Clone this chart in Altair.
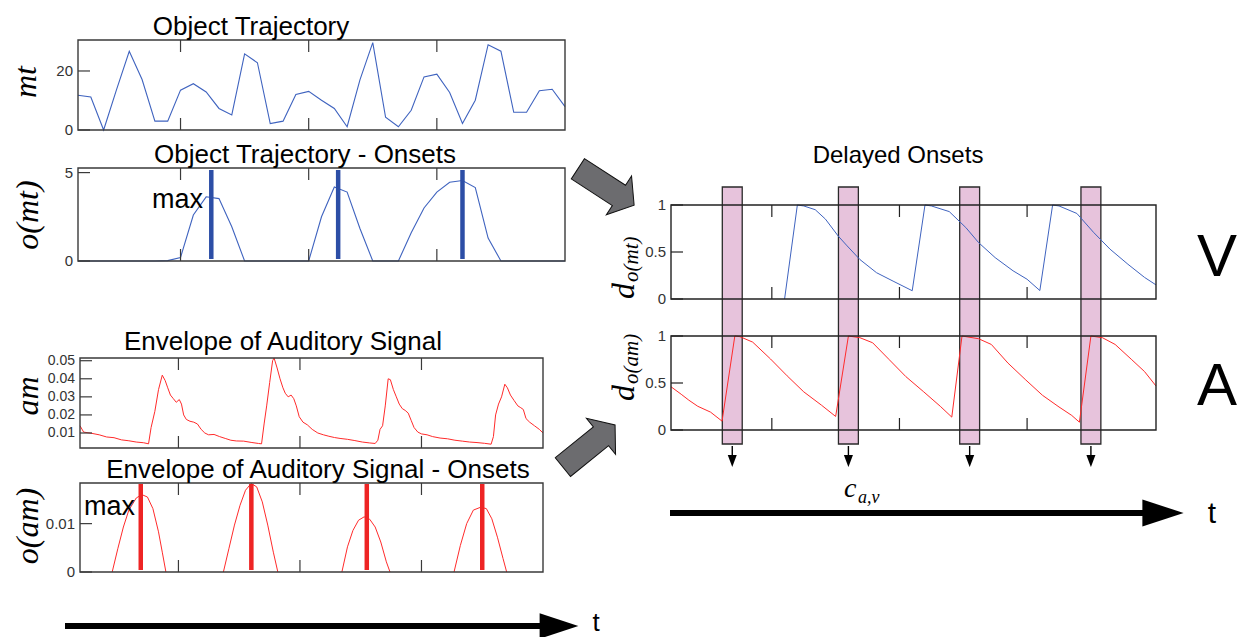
import altair as alt
import pandas as pd

W, H = 1237, 637
SANS = "Liberation Sans"
NARROW = "Liberation Sans Narrow, Liberation Sans"
SERIF = "Liberation Serif"

# ---------------- data ----------------
time_ticks = [1, 2, 3]

# Object trajectory (sampled every 0.1 s)
mt_time = [0.2, 0.3, 0.4, 0.5, 0.6, 0.7, 0.8, 0.9, 1.0, 1.1, 1.2, 1.3, 1.4,
           1.5, 1.6, 1.7, 1.8, 1.9, 2.0, 2.1, 2.2, 2.3, 2.4, 2.5, 2.6, 2.7,
           2.8, 2.9, 3.0, 3.1, 3.2, 3.3, 3.4, 3.5, 3.6, 3.7, 3.8, 3.9, 4.0]
mt_value = [11.8, 11.2, 0.0, 13.6, 26.7, 17.1, 3.0, 3.0, 13.5, 15.7, 12.9,
            7.3, 5.1, 25.8, 22.8, 2.2, 3.0, 12.0, 13.1, 10.1, 7.3, 1.1, 17.0,
            29.6, 4.3, 1.1, 6.7, 18.0, 18.9, 12.7, 2.2, 10.1, 28.9, 26.7, 6.0,
            6.0, 13.3, 13.8, 7.9]
omt_value = [0, 0, 0, 0, 0, 0, 0, 0.02, 0.2, 2.6, 3.63, 3.53, 1.94, 0,
             0, 0, 0, 0, 0, 2.5, 4.19, 3.9, 1.84, 0, 0, 0, 1.6, 3.0, 3.9,
             4.45, 4.55, 4.15, 1.3, 0, 0, 0, 0, 0, 0]
mt_onsets = [1.24, 2.23, 3.20]
mt_ticks, mt_labels = [0, 20], ["0", "20"]
omt_ticks, omt_labels = [0, 5], ["0", "5"]

# Envelope of auditory signal
am_time = [0.190, 0.220, 0.288, 0.348, 0.409, 0.470, 0.531, 0.592, 0.653, 0.714,
           0.754, 0.775, 0.806, 0.836, 0.867, 0.891, 0.912, 0.934, 0.958, 0.982,
           1.007, 1.025, 1.043, 1.065, 1.095, 1.126, 1.156, 1.187, 1.217, 1.248,
           1.293, 1.339, 1.385, 1.431, 1.476, 1.537, 1.598, 1.659, 1.684, 1.705,
           1.726, 1.751, 1.775, 1.787, 1.812, 1.836, 1.860, 1.879, 1.903, 1.927,
           1.949, 1.970, 1.994, 2.025, 2.061, 2.101, 2.147, 2.193, 2.238, 2.284,
           2.330, 2.391, 2.452, 2.513, 2.574, 2.619, 2.641, 2.659, 2.680, 2.702,
           2.726, 2.744, 2.769, 2.793, 2.817, 2.842, 2.866, 2.891, 2.915, 2.939,
           2.970, 3.000, 3.046, 3.092, 3.153, 3.214, 3.275, 3.336, 3.396, 3.457,
           3.518, 3.573, 3.592, 3.610, 3.634, 3.659, 3.686, 3.707, 3.732, 3.762,
           3.793, 3.817, 3.838, 3.860, 3.890, 3.930, 3.970, 4.000]
am_value = [0.0140, 0.0105, 0.0098, 0.0090, 0.0078, 0.0074, 0.0062, 0.0057, 0.0050, 0.0046,
            0.0040, 0.0130, 0.0220, 0.0340, 0.0420, 0.0390, 0.0350, 0.0310, 0.0290, 0.0270,
            0.0285, 0.0260, 0.0200, 0.0175, 0.0165, 0.0160, 0.0150, 0.0120, 0.0100, 0.0090,
            0.0092, 0.0080, 0.0070, 0.0060, 0.0056, 0.0055, 0.0048, 0.0042, 0.0040, 0.0150,
            0.0250, 0.0380, 0.0500, 0.0515, 0.0460, 0.0400, 0.0350, 0.0320, 0.0300, 0.0310,
            0.0290, 0.0250, 0.0190, 0.0160, 0.0145, 0.0120, 0.0100, 0.0090, 0.0082, 0.0075,
            0.0070, 0.0065, 0.0058, 0.0050, 0.0045, 0.0042, 0.0060, 0.0120, 0.0140, 0.0250,
            0.0400, 0.0395, 0.0340, 0.0300, 0.0260, 0.0235, 0.0225, 0.0210, 0.0170, 0.0130,
            0.0105, 0.0095, 0.0090, 0.0080, 0.0072, 0.0068, 0.0060, 0.0055, 0.0050, 0.0047,
            0.0043, 0.0038, 0.0080, 0.0200, 0.0260, 0.0300, 0.0370, 0.0350, 0.0310, 0.0280,
            0.0250, 0.0240, 0.0230, 0.0180, 0.0160, 0.0140, 0.0120, 0.0100]
am_ticks = [0.01, 0.02, 0.03, 0.04, 0.05]
am_labels = ["0.01", "0.02", "0.03", "0.04", "0.05"]

# Onsets of the auditory envelope
oam_time = [0.455, 0.501, 0.547, 0.592, 0.653, 0.699, 0.745, 0.790, 0.836, 0.867, 0.897,
            1.370, 1.415, 1.461, 1.507, 1.552, 1.598, 1.644, 1.690, 1.735, 1.781, 1.818,
            2.345, 2.391, 2.436, 2.482, 2.528, 2.574, 2.619, 2.665, 2.711, 2.741,
            3.268, 3.320, 3.372, 3.427, 3.488, 3.534, 3.579, 3.625, 3.671, 3.701]
oam_value = [0, 0.0048, 0.0093, 0.0128, 0.0153, 0.0160, 0.0155, 0.0131, 0.0083, 0.0041, 0,
             0, 0.0048, 0.0097, 0.0138, 0.0169, 0.0183, 0.0176, 0.0145, 0.0097, 0.0041, 0,
             0, 0.0052, 0.0086, 0.0107, 0.0114, 0.0109, 0.0093, 0.0062, 0.0021, 0,
             0, 0.0055, 0.0100, 0.0128, 0.0134, 0.0131, 0.0110, 0.0072, 0.0028, 0]
oam_seg = [1, 1, 1, 1, 1, 1, 1, 1, 1, 1, 1,
           2, 2, 2, 2, 2, 2, 2, 2, 2, 2, 2,
           3, 3, 3, 3, 3, 3, 3, 3, 3, 3,
           4, 4, 4, 4, 4, 4, 4, 4, 4, 4]
am_onsets = [0.69, 1.60, 2.55, 3.50]
oam_ticks, oam_labels = [0, 0.01], ["0", "0.01"]

# Delayed onsets
dmt_time = [1.10, 1.20, 1.25, 1.34, 1.42, 1.52, 1.59, 1.69, 1.82, 1.95, 2.10,
            2.20, 2.25, 2.39, 2.52, 2.62, 2.75, 2.89, 3.00, 3.10,
            3.20, 3.25, 3.39, 3.52, 3.65, 3.79, 3.92, 4.01]
dmt_value = [0, 1.0, 0.99, 0.95, 0.85, 0.67, 0.565, 0.42, 0.28, 0.19, 0.088,
             1.0, 0.99, 0.93, 0.76, 0.60, 0.44, 0.30, 0.21, 0.09,
             1.0, 0.99, 0.91, 0.71, 0.53, 0.37, 0.23, 0.15]
dam_time = [0.21, 0.29, 0.35, 0.42, 0.52, 0.61,
            0.71, 0.75, 0.85, 0.99, 1.12, 1.25, 1.39, 1.50,
            1.60, 1.69, 1.79, 1.92, 2.05, 2.19, 2.32, 2.41,
            2.49, 2.62, 2.72, 2.85, 2.99, 3.12, 3.25, 3.35, 3.41,
            3.50, 3.59, 3.69, 3.82, 3.92, 4.01]
dam_value = [0.46, 0.38, 0.317, 0.252, 0.19, 0.094,
             1.0, 0.993, 0.935, 0.755, 0.576, 0.406, 0.263, 0.144,
             1.0, 0.982, 0.928, 0.748, 0.568, 0.406, 0.252, 0.137,
             1.0, 0.971, 0.91, 0.712, 0.532, 0.37, 0.245, 0.155, 0.083,
             1.0, 0.982, 0.91, 0.748, 0.622, 0.468]
d_ticks, d_labels = [0, 0.5, 1], ["0", "0.5", "1"]

# ---------------- layout (pixel boxes: x0, x1, y0, y1) ----------------
G1 = (78, 565, 40, 130)
G2 = (78, 565, 168, 261)
G3 = (80, 543, 358, 448)
G4 = (80, 543, 483, 572)
GV = (671, 1156, 205, 299)
GA = (671, 1156, 336, 430)

BLUE = "#3f63bf"
BLUE_BAR = "#2c4ea6"
RED = "#ff2b2b"
RED_BAR = "#ee2424"
FRAME = "#3a3a3a"
TICK_LBL = "#333333"

one = pd.DataFrame({"k": [0]})

ARROW = "M -1 -0.36 L 0.46 -0.36 L 0.46 -0.69 L 1 0 L 0.46 0.69 L 0.46 0.36 L -1 0.36 Z"
TRI_R = "M -1 -0.66 L 1 0 L -1 0.66 Z"
TRI_D = "M -0.75 -1 L 0.75 -1 L 0 1 Z"


def scales(g, xdom, ydom):
    xs = alt.Scale(domain=xdom, range=[g[0], g[1]], nice=False, zero=False)
    ys = alt.Scale(domain=ydom, range=[g[3], g[2]], nice=False, zero=False)
    return xs, ys


def frame_layers(g, xs, ys, yticks, ylabels, color=FRAME, lbl_size=15):
    xt = pd.DataFrame({"t": time_ticks})
    yt = pd.DataFrame({"v": yticks, "lab": ylabels})
    X = alt.X("t:Q", scale=xs, axis=None)
    Y = alt.Y("v:Q", scale=ys, axis=None)
    top = alt.Chart(xt).mark_rule(color=color, strokeWidth=1.2).encode(
        x=X, y=alt.value(g[2]), y2=alt.value(g[2] + 12))
    bot = alt.Chart(xt).mark_rule(color=color, strokeWidth=1.2).encode(
        x=X, y=alt.value(g[3] - 12), y2=alt.value(g[3]))
    ytk = alt.Chart(yt).mark_rule(color=color, strokeWidth=1.2).encode(
        y=Y, x=alt.value(g[0]), x2=alt.value(g[0] + 12))
    ylb = alt.Chart(yt).mark_text(align="right", baseline="middle", font=NARROW,
                                  fontSize=lbl_size, color=TICK_LBL).encode(
        y=Y, x=alt.value(g[0] - 5), text="lab:N")
    box = alt.Chart(one).mark_rect(fillOpacity=0, stroke=color, strokeWidth=1.4).encode(
        x=alt.value(g[0]), x2=alt.value(g[1]), y=alt.value(g[2]), y2=alt.value(g[3]))
    return [top, bot, ytk, ylb, box]


def txt(s, x, y, size, font=SANS, align="center", baseline="alphabetic",
        angle=0, style="normal", color="black"):
    kw = dict(text=s, fontSize=size, font=font, align=align, baseline=baseline,
              color=color, fontStyle=style)
    if angle:
        kw["angle"] = angle
    return alt.Chart(one).mark_text(**kw).encode(x=alt.value(x), y=alt.value(y))


# ---------------- panel 1: object trajectory ----------------
xs, ys = scales(G1, [0.2, 4.0], [0, 30.5])
df = pd.DataFrame({"t": mt_time, "v": mt_value})
p1 = alt.layer(
    alt.Chart(df).mark_line(color=BLUE, strokeWidth=1.1).encode(
        x=alt.X("t:Q", scale=xs, axis=None), y=alt.Y("v:Q", scale=ys, axis=None)),
    *frame_layers(G1, xs, ys, mt_ticks, mt_labels),
)

# ---------------- panel 2: onsets of trajectory ----------------
xs, ys = scales(G2, [0.2, 4.0], [0, 5.26])
df = pd.DataFrame({"t": mt_time, "v": omt_value})
p2 = alt.layer(
    alt.Chart(df).mark_line(color=BLUE, strokeWidth=1.1).encode(
        x=alt.X("t:Q", scale=xs, axis=None), y=alt.Y("v:Q", scale=ys, axis=None)),
    alt.Chart(pd.DataFrame({"t": mt_onsets})).mark_rule(color=BLUE_BAR, strokeWidth=4.5).encode(
        x=alt.X("t:Q", scale=xs, axis=None), y=alt.value(G2[2] + 2), y2=alt.value(G2[3] - 2)),
    *frame_layers(G2, xs, ys, omt_ticks, omt_labels),
)

# ---------------- panel 3: auditory envelope ----------------
xs, ys = scales(G3, [0.19, 4.0], [0.0017, 0.0515])
df = pd.DataFrame({"t": am_time, "v": am_value})
p3 = alt.layer(
    alt.Chart(df).mark_line(color=RED, strokeWidth=1.0).encode(
        x=alt.X("t:Q", scale=xs, axis=None), y=alt.Y("v:Q", scale=ys, axis=None)),
    *frame_layers(G3, xs, ys, am_ticks, am_labels, lbl_size=14),
)

# ---------------- panel 4: onsets of auditory envelope ----------------
xs, ys = scales(G4, [0.19, 4.0], [0, 0.0184])
df = pd.DataFrame({"t": oam_time, "v": oam_value, "seg": oam_seg})
p4 = alt.layer(
    alt.Chart(df).mark_line(color=RED, strokeWidth=1.0).encode(
        x=alt.X("t:Q", scale=xs, axis=None), y=alt.Y("v:Q", scale=ys, axis=None),
        detail="seg:N"),
    alt.Chart(pd.DataFrame({"t": am_onsets})).mark_rule(color=RED_BAR, strokeWidth=4.5).encode(
        x=alt.X("t:Q", scale=xs, axis=None), y=alt.value(G4[2] + 1), y2=alt.value(G4[3] - 2)),
    *frame_layers(G4, xs, ys, oam_ticks, oam_labels),
)

# ---------------- right: delayed onsets (audio, with coincidence bands) ----------------
xs, ys = scales(GA, [0.21, 4.01], [0, 1])
onset_df = pd.DataFrame({"t": am_onsets})
XA = alt.X("t:Q", scale=xs, axis=None)
bands = alt.Chart(onset_df).transform_calculate(
    a="datum.t - 0.078", b="datum.t + 0.078"
).mark_rect(fill="#e7c3dc", stroke="#2a2a2a", strokeWidth=1.3).encode(
    x=alt.X("a:Q", scale=xs, axis=None), x2="b:Q",
    y=alt.value(187), y2=alt.value(444))
stems = alt.Chart(onset_df).mark_rule(color="black", strokeWidth=1.4).encode(
    x=XA, y=alt.value(446), y2=alt.value(456))
heads = alt.Chart(onset_df).mark_point(shape=TRI_D, size=144, filled=True, fill="black",
                                       stroke=None, opacity=1).encode(
    x=XA, y=alt.value(461))
df = pd.DataFrame({"t": dam_time, "v": dam_value})
pa = alt.layer(
    bands,
    alt.Chart(df).mark_line(color=RED, strokeWidth=1.0).encode(
        x=XA, y=alt.Y("v:Q", scale=ys, axis=None)),
    stems, heads,
    *frame_layers(GA, xs, ys, d_ticks, d_labels, color="#222222"),
)

# ---------------- right: delayed onsets (visual) ----------------
xs, ys = scales(GV, [0.21, 4.01], [0, 1])
df = pd.DataFrame({"t": dmt_time, "v": dmt_value})
pv = alt.layer(
    alt.Chart(df).mark_line(color=BLUE, strokeWidth=1.0).encode(
        x=alt.X("t:Q", scale=xs, axis=None), y=alt.Y("v:Q", scale=ys, axis=None)),
    *frame_layers(GV, xs, ys, d_ticks, d_labels, color="#222222"),
)

# ---------------- annotations ----------------
deco = [
    txt("Object Trajectory", 251, 35, 26),
    txt("Object Trajectory - Onsets", 305, 163, 26),
    txt("Envelope of Auditory Signal", 283, 350, 26),
    txt("Envelope of Auditory Signal - Onsets", 318, 478, 26),
    txt("Delayed Onsets", 898, 163, 24),
    txt("max", 152, 208, 27, align="left"),
    txt("max", 84, 515, 27, align="left"),
    # y-axis math labels
    txt("mt", 26, 82, 32, font=SERIF, style="italic", angle=270, baseline="middle"),
    txt("o(mt)", 28, 215, 32, font=SERIF, style="italic", angle=270, baseline="middle"),
    txt("am", 28, 396, 32, font=SERIF, style="italic", angle=270, baseline="middle"),
    txt("o(am)", 28, 526, 32, font=SERIF, style="italic", angle=270, baseline="middle"),
    txt("d", 634, 299, 32, font=SERIF, style="italic", angle=270, align="left"),
    txt("o(mt)", 638, 282, 21, font=SERIF, style="italic", angle=270, align="left"),
    txt("d", 634, 401, 32, font=SERIF, style="italic", angle=270, align="left"),
    txt("o(am)", 638, 384, 21, font=SERIF, style="italic", angle=270, align="left"),
    txt("c", 844, 497, 28, font=SERIF, style="italic", align="left"),
    txt("a,v", 858, 503, 18, font=SERIF, style="italic", align="left"),
    txt("V", 1217, 276, 60),
    txt("A", 1217, 405, 60),
    txt("t", 596, 636, 26, baseline="bottom"),
    txt("t", 1212, 523, 30),
    # time arrows
    alt.Chart(one).mark_rule(color="black", strokeWidth=6).encode(
        x=alt.value(65), x2=alt.value(545), y=alt.value(626)),
    alt.Chart(one).mark_point(shape=TRI_R, size=1500, filled=True, fill="black",
                              stroke=None, opacity=1).encode(
        x=alt.value(559), y=alt.value(626)),
    alt.Chart(one).mark_rule(color="black", strokeWidth=6).encode(
        x=alt.value(670), x2=alt.value(1148), y=alt.value(513)),
    alt.Chart(one).mark_point(shape=TRI_R, size=1700, filled=True, fill="black",
                              stroke=None, opacity=1).encode(
        x=alt.value(1163), y=alt.value(513)),
    # grey block arrows
    alt.Chart(one).mark_point(shape=ARROW, size=4500, angle=33, filled=True, fill="#6c6c6f",
                              stroke="#111111", strokeWidth=1, opacity=1).encode(
        x=alt.value(606), y=alt.value(187)),
    alt.Chart(one).mark_point(shape=ARROW, size=4500, angle=321, filled=True, fill="#6c6c6f",
                              stroke="#111111", strokeWidth=1, opacity=1).encode(
        x=alt.value(589), y=alt.value(446)),
]

chart = alt.layer(p1, p2, p3, p4, pa, pv, *deco).resolve_scale(
    x="independent", y="independent"
).properties(
    width=W, height=H, padding=0, background="white",
    autosize=alt.AutoSizeParams(type="none"),
).configure_view(stroke=None)

chart.save("out.html", embed_options={"renderer": "svg", "actions": False})
